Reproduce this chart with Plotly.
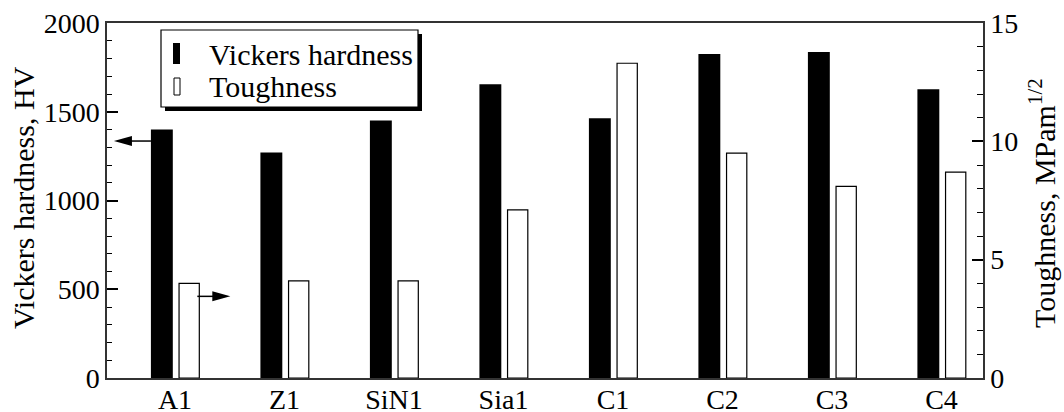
import plotly.graph_objects as go

# Materials and measured properties
categories = ["A1", "Z1", "SiN1", "Sia1", "C1", "C2", "C3", "C4"]
hardness_hv = [1400, 1271, 1451, 1655, 1464, 1826, 1836, 1627]
toughness = [4.0, 4.1, 4.1, 7.1, 13.3, 9.5, 8.1, 8.7]
hv_ticks = [0, 500, 1000, 1500, 2000]
k_ticks = [0, 5, 10, 15]

FONT = "Liberation Serif"
W, H = 1064, 412
ML, MR, MT, MB = 107, 81, 23, 34
PW, PH = W - ML - MR, H - MT - MB


def px_x(px):
    """Page pixel x -> paper fraction."""
    return (px - ML) / PW


def px_y(py):
    """Page pixel y -> paper fraction."""
    return (MT + PH - py) / PH


idx = list(range(len(categories)))
BLACK_OFF, BLACK_W = -0.22, 0.20
WHITE_OFF, WHITE_W = 0.037, 0.185

fig = go.Figure()
fig.add_trace(go.Bar(
    x=idx, y=hardness_hv, name="Vickers hardness",
    offset=BLACK_OFF, width=BLACK_W,
    marker=dict(color="black", line=dict(width=0)),
    yaxis="y", showlegend=False,
))
fig.add_trace(go.Bar(
    x=idx, y=toughness, name="Toughness",
    offset=WHITE_OFF, width=WHITE_W,
    marker=dict(color="white", line=dict(color="black", width=1.2)),
    yaxis="y2", showlegend=False,
))

axis_line = "#333333"
title_font = dict(family=FONT, size=30, color="black")

shapes = []
annotations = []

# Legend box with drop shadow, anchored to the top-left corner of the plot area
def legend_rect(x0, y0, x1, y1, fill, line_w=0, line_c="black"):
    return dict(
        type="rect", xref="paper", yref="paper",
        xsizemode="pixel", ysizemode="pixel", xanchor=0, yanchor=1,
        x0=x0, x1=x1, y0=y0, y1=y1,
        fillcolor=fill, line=dict(width=line_w, color=line_c), layer="above",
    )

bx0, bx1, by0, by1 = 161 - ML, 418 - ML, -(30 - MT), -(107 - MT)
shapes.append(legend_rect(bx0 + 4, by0 - 4, bx1 + 4, by1 - 4, "black"))
shapes.append(legend_rect(bx0, by0, bx1, by1, "white", 1.2, "black"))
shapes.append(legend_rect(173 - ML, -(43 - MT), 180 - ML, -(64 - MT), "black"))
shapes.append(legend_rect(174 - ML, -(78 - MT), 180 - ML, -(95 - MT), "white", 1, "black"))

annotations.append(dict(
    text="Vickers hardness", xref="paper", yref="paper",
    x=px_x(207), y=px_y(54.5), xanchor="left", yanchor="middle",
    showarrow=False, font=title_font,
))
annotations.append(dict(
    text="Toughness", xref="paper", yref="paper",
    x=px_x(207), y=px_y(86), xanchor="left", yanchor="middle",
    showarrow=False, font=title_font,
))

# Axis titles
annotations.append(dict(
    text="Vickers hardness, HV", xref="paper", yref="paper",
    x=px_x(23), y=px_y(198), xanchor="center", yanchor="middle",
    textangle=-90, showarrow=False, font=title_font,
))
annotations.append(dict(
    text="Toughness, MPam<sup>1/2</sup>", xref="paper", yref="paper",
    x=px_x(1063), y=px_y(203), xanchor="right", yanchor="middle",
    textangle=-90, showarrow=False, font=title_font,
))

# Arrows pointing each series to its axis
hv_arrow_y = 1335
shapes.append(dict(
    type="line", xref="x", yref="y", xsizemode="pixel", ysizemode="pixel",
    xanchor=idx[0] + BLACK_OFF, yanchor=hv_arrow_y,
    x0=0, x1=-20, y0=0, y1=0, line=dict(color="black", width=1.5), layer="above",
))
shapes.append(dict(
    type="path", xref="x", yref="y", xsizemode="pixel", ysizemode="pixel",
    xanchor=idx[0] + BLACK_OFF, yanchor=hv_arrow_y,
    path="M -37,0 L -19,5 L -19,-5 Z",
    fillcolor="black", line=dict(width=0), layer="above",
))
k_arrow_y = 3.45
shapes.append(dict(
    type="line", xref="x", yref="y2", xsizemode="pixel", ysizemode="pixel",
    xanchor=idx[0] + WHITE_OFF + WHITE_W, yanchor=k_arrow_y,
    x0=-2, x1=14, y0=0, y1=0, line=dict(color="black", width=1.5), layer="above",
))
shapes.append(dict(
    type="path", xref="x", yref="y2", xsizemode="pixel", ysizemode="pixel",
    xanchor=idx[0] + WHITE_OFF + WHITE_W, yanchor=k_arrow_y,
    path="M 31,0 L 13,5 L 13,-5 Z",
    fillcolor="black", line=dict(width=0), layer="above",
))

fig.update_layout(
    template="none",
    width=W, height=H,
    margin=dict(l=ML, r=MR, t=MT, b=MB, pad=0, autoexpand=False),
    paper_bgcolor="white", plot_bgcolor="white",
    barmode="overlay",
    font=dict(family=FONT, color="black"),
    xaxis=dict(
        range=[-0.621, 7.379], tickmode="array", tickvals=idx, ticktext=categories,
        showline=True, mirror=True, linecolor=axis_line, linewidth=1.5,
        ticks="", showgrid=False, zeroline=False, automargin=False,
        tickfont=dict(family=FONT, size=28, color="black"),
        ticklabelstandoff=-4,
    ),
    yaxis=dict(
        range=[0, 2000], tickmode="array", tickvals=hv_ticks,
        showline=True, linecolor=axis_line, linewidth=1.5,
        ticks="inside", ticklen=11, tickwidth=2, tickcolor="black",
        minor=dict(dtick=100, ticks="inside", ticklen=5, tickwidth=1, tickcolor="black"),
        showgrid=False, zeroline=False, automargin=False,
        tickfont=dict(family=FONT, size=28, color="black"),
        ticklabelstandoff=0,
    ),
    yaxis2=dict(
        range=[0, 15], tickmode="array", tickvals=k_ticks,
        overlaying="y", side="right",
        showline=True, linecolor=axis_line, linewidth=1.5,
        ticks="inside", ticklen=11, tickwidth=2, tickcolor="black",
        minor=dict(dtick=1, ticks="inside", ticklen=6, tickwidth=1, tickcolor="black"),
        showgrid=False, zeroline=False, automargin=False,
        tickfont=dict(family=FONT, size=28, color="black"),
        ticklabelstandoff=0,
    ),
    shapes=shapes,
    annotations=annotations,
)

fig.write_html("out.html")
